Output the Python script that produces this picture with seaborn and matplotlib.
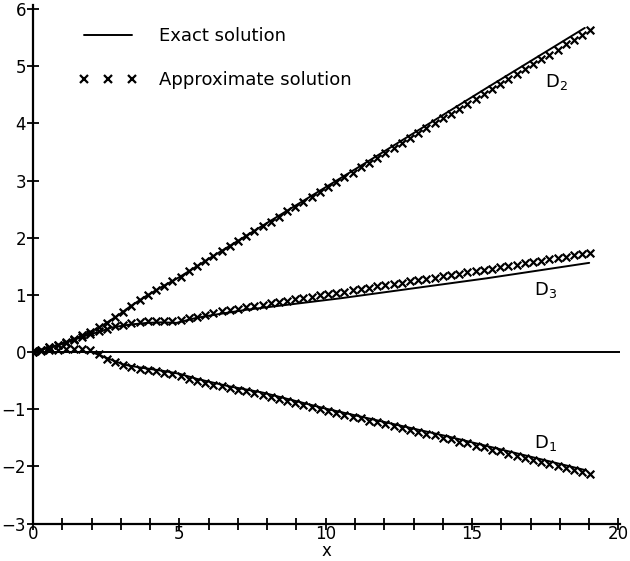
import numpy as np
import pandas as pd
import matplotlib
matplotlib.use("Agg")
import matplotlib.pyplot as plt
from matplotlib.lines import Line2D
from matplotlib.ticker import MultipleLocator
import seaborn as sns

# ---------------- data ----------------
# exact solutions
exact_d1_x = [0, 2.0, 2.5, 3.1, 3.65, 4.45, 5.0, 5.6, 6.7, 7.85, 9.0, 10.0, 14.2, 18.9]
exact_d1_y = [0, 0.0, -0.10, -0.22, -0.27, -0.33, -0.38, -0.47, -0.60, -0.71, -0.86, -0.99, -1.48, -2.07]

exact_d2_x = [0, 1.0, 1.7, 2.3, 2.9, 3.3, 3.8, 4.4, 5.0, 6.0, 8.0, 11.3, 15.5, 18.85]
exact_d2_y = [0, 0.15, 0.29, 0.44, 0.64, 0.79, 0.96, 1.14, 1.31, 1.63, 2.26, 3.29, 4.62, 5.67]

exact_d3_x = [0, 1.0, 1.7, 2.3, 2.7, 3.3, 3.9, 4.4, 4.9, 5.6, 6.3, 7.3, 10.5, 15.5, 19.0]
exact_d3_y = [0, 0.14, 0.27, 0.36, 0.43, 0.48, 0.51, 0.52, 0.51, 0.60, 0.66, 0.74, 0.94, 1.29, 1.56]

# approximate solution (markers)
approx_x = [0.00, 0.28, 0.56, 0.84, 1.12, 1.40, 1.68, 1.96, 2.24, 2.52, 2.80, 3.08, 3.36, 3.64,
            3.92, 4.20, 4.48, 4.76, 5.04, 5.32, 5.60, 5.88, 6.16, 6.44, 6.72, 7.00, 7.28, 7.56,
            7.84, 8.12, 8.40, 8.68, 8.96, 9.24, 9.52, 9.80, 10.08, 10.36, 10.64, 10.92, 11.20,
            11.48, 11.76, 12.04, 12.32, 12.60, 12.88, 13.16, 13.44, 13.72, 14.00, 14.28, 14.56,
            14.84, 15.12, 15.40, 15.68, 15.96, 16.24, 16.52, 16.80, 17.08, 17.36, 17.64, 17.92,
            18.20, 18.48, 18.76, 19.04]

approx_d1 = [0.01, 0.02, 0.03, 0.04, 0.05, 0.05, 0.05, 0.03, -0.04, -0.12, -0.18, -0.23, -0.26, -0.29,
             -0.31, -0.33, -0.36, -0.39, -0.42, -0.47, -0.51, -0.54, -0.57, -0.60, -0.63, -0.66, -0.69, -0.72,
             -0.75, -0.79, -0.82, -0.86, -0.89, -0.93, -0.96, -1.00, -1.03, -1.06, -1.10, -1.13, -1.16,
             -1.20, -1.23, -1.26, -1.30, -1.33, -1.36, -1.40, -1.43, -1.46, -1.50, -1.53, -1.57,
             -1.60, -1.64, -1.67, -1.71, -1.74, -1.78, -1.81, -1.85, -1.88, -1.92, -1.95, -1.99,
             -2.02, -2.06, -2.09, -2.13]

approx_d2 = [0.00, 0.04, 0.08, 0.13, 0.17, 0.23, 0.29, 0.35, 0.43, 0.51, 0.61, 0.70, 0.81, 0.91,
             0.99, 1.08, 1.16, 1.24, 1.32, 1.41, 1.50, 1.59, 1.68, 1.76, 1.85, 1.94, 2.03, 2.11,
             2.20, 2.28, 2.37, 2.46, 2.54, 2.63, 2.71, 2.80, 2.88, 2.97, 3.06, 3.14, 3.23,
             3.31, 3.40, 3.49, 3.57, 3.66, 3.74, 3.83, 3.92, 4.00, 4.09, 4.17, 4.26,
             4.34, 4.43, 4.52, 4.60, 4.69, 4.77, 4.86, 4.95, 5.03, 5.12, 5.20, 5.29,
             5.38, 5.46, 5.55, 5.63]

approx_d3 = [0.00, 0.04, 0.08, 0.12, 0.16, 0.21, 0.26, 0.31, 0.36, 0.41, 0.45, 0.48, 0.51, 0.53,
             0.54, 0.55, 0.55, 0.55, 0.56, 0.59, 0.62, 0.65, 0.68, 0.71, 0.73, 0.76, 0.78, 0.80,
             0.83, 0.85, 0.87, 0.89, 0.92, 0.94, 0.96, 0.99, 1.01, 1.03, 1.05, 1.08, 1.10,
             1.12, 1.15, 1.17, 1.19, 1.21, 1.24, 1.26, 1.28, 1.30, 1.33, 1.35, 1.37,
             1.40, 1.42, 1.44, 1.46, 1.49, 1.51, 1.53, 1.56, 1.58, 1.60, 1.62, 1.65,
             1.67, 1.69, 1.72, 1.74]

curve_labels = ["D$_1$", "D$_2$", "D$_3$"]
label_pos_x = [17.1, 17.5, 17.1]
label_pos_y = [-1.6, 4.72, 1.08]

x_major = [0, 5, 10, 15, 20]
y_ticks = [-3, -2, -1, 0, 1, 2, 3, 4, 5, 6]

# ---------------- build frames ----------------
exact_df = pd.concat([
    pd.DataFrame({"x": exact_d1_x, "y": exact_d1_y, "curve": "D1"}),
    pd.DataFrame({"x": exact_d2_x, "y": exact_d2_y, "curve": "D2"}),
    pd.DataFrame({"x": exact_d3_x, "y": exact_d3_y, "curve": "D3"}),
], ignore_index=True)

approx_df = pd.concat([
    pd.DataFrame({"x": approx_x, "y": approx_d1, "curve": "D1"}),
    pd.DataFrame({"x": approx_x, "y": approx_d2, "curve": "D2"}),
    pd.DataFrame({"x": approx_x, "y": approx_d3, "curve": "D3"}),
], ignore_index=True)

# ---------------- plot ----------------
sns.set_style("ticks", rc={"text.color": "black", "axes.labelcolor": "black",
                           "xtick.color": "black", "ytick.color": "black",
                           "axes.edgecolor": "black"})
plt.rcParams["font.family"] = ["DejaVu Sans"]

fig = plt.figure(figsize=(6.3, 5.61), dpi=100)
ax = fig.add_axes([0.0524, 0.0668, 0.9316, 0.9242])

ax.axhline(0, color="black", lw=1.4, zorder=1)

for name, grp in approx_df.groupby("curve"):
    sns.scatterplot(data=grp, x="x", y="y", marker="x", color="black", s=30,
                    linewidth=1.6, ax=ax, legend=False, zorder=3)

for name, grp in exact_df.groupby("curve"):
    sns.lineplot(data=grp, x="x", y="y", color="black", lw=1.4, ax=ax,
                 estimator=None, sort=False, legend=False, zorder=2)

for lab, lx, ly in zip(curve_labels, label_pos_x, label_pos_y):
    ax.text(lx, ly, lab, fontsize=13, ha="left", va="center", color="black")

ax.set_xlim(0, 20.05)
ax.set_ylim(-3, 6.07)
ax.set_xticks(x_major)
ax.xaxis.set_minor_locator(MultipleLocator(1))
ax.set_yticks(y_ticks)
ax.tick_params(axis="both", which="both", direction="inout", length=8, width=1.3,
               labelsize=12, pad=1, color="black", labelcolor="black")
ax.tick_params(axis="x", which="both", pad=-3)
sns.despine(ax=ax)
for sp in ["left", "bottom"]:
    ax.spines[sp].set_linewidth(1.6)
ax.set_xlabel("x", fontsize=12, labelpad=-1)
ax.set_ylabel("")

handles = [Line2D([], [], color="black", lw=1.4),
           Line2D([], [], ls="none", marker="x", color="black", ms=6, mew=1.6)]
ax.legend(handles, ["Exact solution", "Approximate solution"], loc="upper left",
          bbox_to_anchor=(0.077, 0.958), frameon=False, numpoints=3, fontsize=13,
          handlelength=3.3, handletextpad=1.2, labelspacing=1.45, borderpad=0,
          borderaxespad=0)

fig.savefig("out.png", dpi=100)
